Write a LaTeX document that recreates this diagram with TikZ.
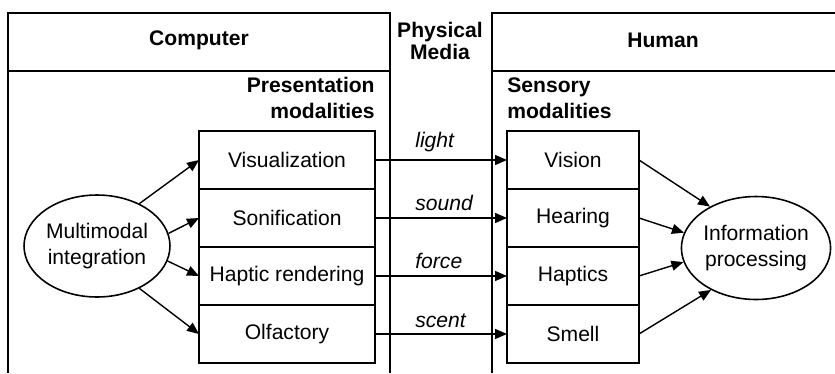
\documentclass[tikz,border=0pt,12pt]{standalone}
\usepackage{fontspec}
\setmainfont{Liberation Sans}
\usetikzlibrary{positioning}
\usetikzlibrary{shapes.geometric, arrows.meta}
\tikzstyle{modality} = [rectangle, minimum width=3.52cm, minimum height=1.16cm, text centered, draw=black, line width=1pt, outer sep=0pt]
\tikzstyle{sense} = [modality, minimum width=2.64cm]
\tikzstyle{blob} = [ellipse, draw=black, line width=0.9pt, inner sep=0pt, align=center]
\tikzstyle{frame} = [line width=1pt]
\tikzstyle{heading} = [font=\bfseries, align=center, inner sep=0pt]
\tikzstyle{medium} = [font=\itshape, anchor=base west, inner sep=0pt]
\tikzstyle{arrow} = [line width=0.8pt,-{Triangle[length=2.4mm,width=2mm]}]

\begin{document}
\begin{tikzpicture}[x=0.02cm, y=-0.02cm, node distance=0pt]
        \useasboundingbox (0,0) rectangle (835,373);

        % Frames for computer and human
        \draw[frame] (8,373) |- (390,13) -- (390,373);
        \draw[frame] (8,71) -- (390,71);
        \draw[frame] (492,373) |- (835,13);
        \draw[frame] (492,71) -- (835,71);

        % Column headings
        \node[heading] (computer) at (199,40) {Computer};
        \node[heading] (media) at (440,41) {Physical\\[-2pt]Media};
        \node[heading] (human) at (663,40) {Human};

        % Presentation modalities
        \node[modality] (vis) at (287,160) {Visualization};
        \node[modality, below=of vis] (son) {Sonification};
        \node[modality, below=of son] (hap) {Haptic rendering};
        \node[modality, below=of hap] (olf) {Olfactory};
        \node[heading, align=right, above=7pt of vis.north east, anchor=south east] (present) {Presentation\\modalities};

        % Sensory modalities
        \node[sense] (vision) at (573,160) {Vision};
        \node[sense, below=of vision] (hearing) {Hearing};
        \node[sense, below=of hearing] (haptics) {Haptics};
        \node[sense, below=of haptics] (smell) {Smell};
        \node[heading, align=left, above=7pt of vision.north west, anchor=south west] (sensory) {Sensory\\modalities};

        % Ellipses
        \node[blob, minimum width=2.92cm, minimum height=2.04cm] (mm) at (97,246) {Multimodal\\integration};
        \node[blob, minimum width=2.96cm, minimum height=2.06cm] (info) at (756,248) {Information\\processing};

        % Media labels
        \node[medium] (light) at (415,147) {light};
        \node[medium] (sound) at (415,210) {sound};
        \node[medium] (force) at (415,268) {force};
        \node[medium] (scent) at (415,327) {scent};

        % Connections
        \draw[arrow] (mm.45) -- (vis.west);
        \draw[arrow] (mm.10) -- (son.west);
        \draw[arrow] (mm.-12) -- (hap.west);
        \draw[arrow] (mm.-45) -- (olf.west);

        \draw[arrow] (vis.east) -- (vision.west);
        \draw[arrow] (son.east) -- (hearing.west);
        \draw[arrow] (hap.east) -- (haptics.west);
        \draw[arrow] (olf.east) -- (smell.west);

        \draw[arrow] (vision.east) -- (info.138);
        \draw[arrow] (hearing.east) -- (info.168);
        \draw[arrow] (haptics.east) -- (info.191);
        \draw[arrow] (smell.east) -- (info.223);

    \end{tikzpicture}
\end{document}
